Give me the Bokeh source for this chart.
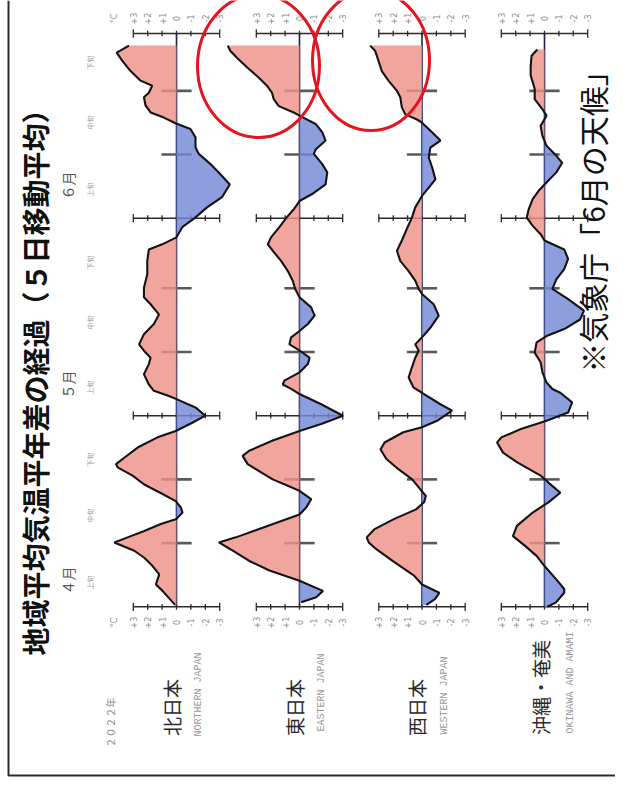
import math
from bokeh.plotting import figure
from bokeh.models import Range1d
from bokeh.core.properties import value
from bokeh.embed import file_html
from bokeh.resources import INLINE

# ---------------- data (days since 1 April 2022, 5-day running mean anomaly, degC) -------------
north_days = [0.3, 2.5, 3.5, 5.1, 6.4, 7.7, 8.8, 10.1, 10.9, 11.9, 13.0, 13.8, 14.8, 15.6, 16.6, 17.7,
              19.2, 20.6, 21.9, 22.4, 23.4, 25.0, 26.6, 27.6, 28.9, 30.0, 31.3, 32.6, 33.1, 33.9, 34.9,
              36.5, 38.1, 39.1, 40.2, 41.2, 42.8, 44.4, 45.9, 47.5, 48.6, 50.1, 52.2, 54.3, 56.1, 56.9,
              58.0, 59.6, 61.1, 62.7, 64.3, 66.3, 67.9, 69.5, 71.1, 72.1, 73.7, 75.0, 75.9, 76.8, 77.6,
              78.7, 80.0, 80.7, 81.8, 82.6, 84.1, 85.7, 87.0, 88.1]
north_vals = [0.1, 0.97, 1.43, 1.2, 1.66, 2.24, 2.93, 4.32, 3.4, 2.24, 1.09, 0.0, -0.42, -0.3, 0.05, 0.97,
              2.24, 3.05, 4.09, 4.2, 3.63, 2.7, 1.32, 0.05, -1.1, -2.0, -1.32, 0.0, 0.53, 1.57, 1.92,
              2.26, 1.92, 1.8, 2.26, 2.6, 2.26, 1.57, 1.22, 1.8, 2.26, 2.26, 2.03, 2.03, 1.92, 1.0,
              0.0, -0.4, -1.3, -2.12, -3.16, -3.7, -3.05, -2.36, -1.55, -1.32, -1.32, -0.97, 0.07, 0.88, 1.8,
              2.15, 2.26, 1.92, 1.69, 2.49, 3.19, 3.76, 4.15, 3.3]

east_days = [0.7, 1.5, 2.5, 4.1, 5.7, 7.2, 9.0, 10.1, 10.9, 12.4, 14.5, 15.6, 16.9, 18.2, 19.0, 20.0,
             20.8, 22.4, 23.7, 24.5, 26.1, 27.6, 28.7, 30.0, 31.8, 33.4, 34.2, 34.9, 35.5, 36.8, 38.1,
             39.1, 40.4, 41.2, 42.3, 43.3, 44.4, 45.7, 47.0, 48.6, 49.9, 51.2, 52.7, 54.3, 55.9, 56.9,
             58.0, 59.6, 61.1, 62.4, 63.7, 64.8, 66.3, 68.2, 69.5, 71.1, 71.8, 73.2, 74.5, 75.8, 77.1,
             77.6, 78.6, 79.7, 80.7, 81.8, 83.1, 84.7, 86.2, 87.3, 88.1]
east_vals = [-0.12, -1.16, -1.63, 0.0, 2.09, 3.49, 4.77, 5.6, 4.42, 2.56, 0.0, -0.47, -0.81, 0.0, 0.81, 1.86,
             2.44, 3.6, 3.95, 3.49, 1.86, 0.0, -1.51, -3.02, -1.51, 0.0, 0.58, 1.16, 1.05, 0.0, -0.58,
             -0.7, 0.12, 0.7, 0.58, 0.0, -0.58, -1.05, -0.81, 0.0, 0.3, 0.47, 0.81, 1.28, 1.86, 2.2,
             1.98, 1.4, 0.9, 0.4, 0.0, -0.88, -1.81, -1.93, -1.58, -1.0, -1.12, -1.81, -1.58, -1.12, 0.0,
             0.4, 1.44, 1.79, 1.91, 2.26, 2.84, 3.65, 4.35, 4.81, 4.98]

west_days = [0.3, 1.2, 2.2, 3.5, 4.9, 7.0, 9.0, 10.1, 10.9, 12.2, 13.8, 15.3, 16.4, 17.4, 18.5, 20.0,
             21.6, 23.2, 24.7, 25.8, 27.4, 28.2, 29.2, 30.8, 31.8, 33.6, 34.4, 36.0, 37.6, 39.1, 40.2,
             41.2, 42.3, 43.8, 45.7, 47.5, 49.1, 49.9, 51.2, 52.7, 54.3, 55.9, 57.5, 59.6, 61.1, 62.7,
             64.5, 65.8, 67.1, 69.0, 70.5, 72.1, 73.2, 74.5, 76.0, 76.5, 77.3, 78.4, 80.0, 81.0, 82.6,
             84.1, 85.7, 87.3, 88.1]
west_vals = [-0.3, -0.9, -1.2, 0.0, 0.55, 1.92, 3.15, 3.7, 3.84, 3.29, 1.92, 0.41, -0.14, -0.27, 0.14, 0.68,
             1.64, 2.47, 2.88, 2.6, 1.3, 0.0, -1.05, -2.09, -1.28, 0.0, 0.58, 0.93, 0.7, 0.47, 0.23,
             0.47, 0.0, -0.58, -1.16, -0.81, 0.0, 0.23, 0.47, 0.93, 1.51, 1.74, 1.4, 1.0, 0.7, 0.47,
             0.0, -0.47, -0.93, -0.7, -0.47, -0.58, -1.28, -0.7, 0.0, 0.35, 1.16, 1.4, 1.51, 1.74, 2.33,
             2.79, 3.02, 3.26, 3.6]

oki_days = [0.0, 0.7, 2.2, 2.8, 4.3, 6.4, 8.0, 9.6, 11.1, 12.7, 14.8, 16.4, 17.9, 19.5, 20.6, 22.7,
            24.2, 25.8, 26.6, 27.9, 29.2, 30.5, 32.1, 33.6, 34.2, 35.2, 36.8, 38.4, 39.9, 41.5, 42.5,
            43.6, 45.1, 46.5, 48.3, 49.9, 51.4, 53.0, 54.6, 56.1, 57.5, 58.5, 59.8, 61.1, 62.4, 64.0,
            65.3, 66.6, 68.2, 69.7, 70.8, 72.4, 73.9, 75.5, 77.1, 78.1, 79.7, 81.3, 83.4, 84.9, 86.5, 87.5]
oki_vals = [-0.2, -0.8, -1.37, -1.37, -0.82, 0.0, 0.55, 1.37, 2.19, 1.92, 0.82, -0.27, -1.1, -0.27, 0.27, 1.92,
            2.88, 3.29, 3.0, 1.64, -0.14, -1.64, -1.92, -1.1, -0.55, -0.14, 0.14, 0.27, 0.68, 0.55, -0.14,
            -1.37, -2.47, -2.74, -1.64, -0.55, -0.82, -1.37, -1.64, -1.37, 0.0, 0.27, 0.82, 1.23, 1.1, 0.82,
            0.41, -0.14, -0.82, -1.23, -0.82, -0.14, 0.14, 0.27, -0.14, 0.14, 0.68, 0.68, 0.96, 0.96, 0.9, 0.5]

regions_ja = ["北日本", "東日本", "西日本", "沖縄・奄美"]
regions_en = ["NORTHERN JAPAN", "EASTERN JAPAN", "WESTERN JAPAN", "OKINAWA AND AMAMI"]
series_days = [north_days, east_days, west_days, oki_days]
series_vals = [north_vals, east_vals, west_vals, oki_vals]

axis_days = [0, 30, 61, 90]            # 4/1, 5/1, 6/1, 6/30
dekad_days = [10, 20, 40, 50, 71, 81]  # 11th and 21st of each month
tick_vals = [3, 2, 1, 0, -1, -2, -3]
tick_labels = ["+3", "+2", "+1", "0", "-1", "-2", "-3"]
months = ["４月", "５月", "６月"]
dekads = ["上旬", "中旬", "下旬"]
title = "地域平均気温平年差の経過（５日移動平均）"
year_label = "２０２２年"
source_note = "※気象庁「6月の天候」"

# ---------------- layout constants --------------------------------------------------------
W, H = 615, 784
PX0, PX1 = 8, 623      # page pixel range covered by the figure
PY0, PY1 = 8, 792
Y_APR1, PX_PER_DAY = 614.3, 6.37
PX_PER_DEG = 14.4
panel_zero = [184.0, 307.0, 429.5, 552.0]
panel_names = ["north", "east", "west", "oki"]

RED, BLUE = "#EF9186", "#7489D8"
JP = value("Noto Sans CJK JP")

p = figure(width=W, height=H, x_range=Range1d(PX0, PX1), y_range=Range1d(PY1, PY0),
           output_backend="svg", toolbar_location=None, min_border=0)
p.xaxis.visible = False
p.yaxis.visible = False
p.grid.visible = False
p.outline_line_color = None
p.background_fill_color = "white"
p.border_fill_color = "white"

p.extra_y_ranges = {"days": Range1d(start=(Y_APR1 - PY1) / PX_PER_DAY, end=(Y_APR1 - PY0) / PX_PER_DAY)}
for name, z in zip(panel_names, panel_zero):
    p.extra_x_ranges[name] = Range1d(start=(z - PX0) / PX_PER_DEG, end=(z - PX1) / PX_PER_DEG)


def with_crossings(days, vals):
    ys, xs = [days[0]], [vals[0]]
    for i in range(1, len(days)):
        v0, v1 = vals[i - 1], vals[i]
        if v0 * v1 < 0:
            t = v0 / (v0 - v1)
            ys.append(days[i - 1] + t * (days[i] - days[i - 1]))
            xs.append(0.0)
        ys.append(days[i])
        xs.append(v1)
    return ys, xs


# frame of the scanned page
p.line(x=[16, 16, PX1], y=[PY0, 783, 783], line_color="#2b2b2b", line_width=2)

for k, name in enumerate(panel_names):
    kw = dict(x_range_name=name, y_range_name="days")
    # baseline
    p.segment(x0=[0], x1=[0], y0=[axis_days[0]], y1=[axis_days[-1]], line_color="#1d2150", line_width=1.6, **kw)
    # major scale bars
    for d in axis_days:
        p.segment(x0=[3], x1=[-3], y0=[d], y1=[d], line_color="#2a2a2a", line_width=1.5, **kw)
        p.segment(x0=tick_vals, x1=tick_vals,
                  y0=[d - (0.65 if abs(t) == 3 else 0.45) for t in tick_vals],
                  y1=[d + (0.65 if abs(t) == 3 else 0.45) for t in tick_vals],
                  line_color="#2a2a2a", line_width=1.3, **kw)
    # dekad ticks
    p.segment(x0=[1.05] * len(dekad_days), x1=[-1.05] * len(dekad_days), y0=dekad_days, y1=dekad_days,
              line_color="#5a5a5a", line_width=2.6, **kw)
    # filled anomaly
    ys, xs = with_crossings(series_days[k], series_vals[k])
    p.harea(y=ys, x1=[0] * len(ys), x2=[max(v, 0) for v in xs], fill_color=RED, fill_alpha=0.82, **kw)
    p.harea(y=ys, x1=[0] * len(ys), x2=[min(v, 0) for v in xs], fill_color=BLUE, fill_alpha=0.82, **kw)
    p.line(x=series_vals[k], y=series_days[k], line_color="#141414", line_width=2.1, **kw)
    # scale numbers (top and bottom)
    for yy in (26, 630):
        p.text(x=tick_vals, y=[yy] * 7, text=tick_labels, angle=math.pi / 2, x_range_name=name,
               text_font=value("DejaVu Sans"), text_font_size="8px", text_color="#8a8a8a",
               text_align="center", text_baseline="middle")
    if k == 0:
        p.text(x=[4.3, 4.3], y=[26, 630], text=["°C", "°C"], angle=math.pi / 2, x_range_name=name,
               text_font=value("DejaVu Sans"), text_font_size="8px", text_color="#8a8a8a",
               text_align="center", text_baseline="middle")

# region labels
p.text(x=[179, 302, 424, 548], y=[715, 715, 715, 695], text=regions_ja, angle=math.pi / 2,
       text_font=JP, text_font_size="19px", text_color="#2a2a2a", text_align="center", text_baseline="middle")
p.text(x=[206, 329, 452, 578], y=[702, 700, 703, 690], text=regions_en, angle=math.pi / 2,
       text_font=value("Liberation Mono"), text_font_size="10px", text_color="#9a9a9a",
       text_align="center", text_baseline="middle")
p.text(x=[118], y=[730], text=[year_label], angle=math.pi / 2, text_font=JP, text_font_size="10px",
       text_color="#8a8a8a", text_align="center", text_baseline="middle")

# month and dekad labels
p.text(x=[75, 75, 75], y=[588, 392, 193], text=months, angle=math.pi / 2, text_font=JP,
       text_font_size="14px", text_color="#555555", text_align="center", text_baseline="middle")
p.text(x=[97] * 9, y=[590, 523, 467, 395, 330, 270, 197, 130, 70], text=dekads * 3, angle=math.pi / 2,
       text_font=JP, text_font_size="7px", text_color="#9a9a9a", text_align="center", text_baseline="middle")

# title and source note
p.text(x=[42], y=[383], text=[title], angle=math.pi / 2, text_font=JP, text_font_size="28px",
       text_font_style="bold", text_color="#111111", text_align="center", text_baseline="middle")
p.text(x=[599], y=[222], text=[source_note], angle=math.pi / 2, text_font=JP, text_font_size="30px",
       text_color="#111111", text_align="center", text_baseline="middle")

# hand-drawn red highlight circles
p.ellipse(x=[266, 378.5], y=[73.5, 68], width=[122, 117], height=[143, 140],
          fill_color=None, line_color="#E3151E", line_width=3)

open("out.html", "w").write(file_html(p, INLINE))
